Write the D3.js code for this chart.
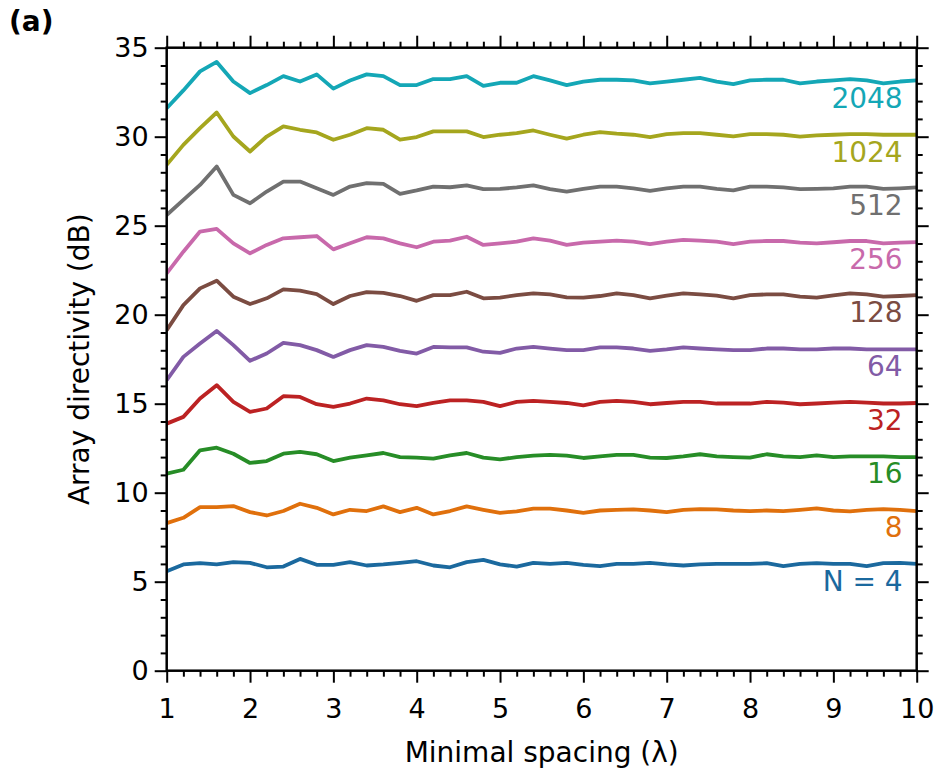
<!DOCTYPE html>
<html>
<head>
<meta charset="utf-8">
<script src="https://cdn.jsdelivr.net/npm/d3@7"></script>
<style>
  html, body { margin: 0; padding: 0; background: #fff; }
  svg { display: block; font-family: "DejaVu Sans", sans-serif; }
</style>
</head>
<body>
<svg id="chart" width="939" height="769"></svg>
<script>
// ---------------- data ----------------
const spacing = d3.range(46).map(i => +(1 + i * 0.2).toFixed(1)); // 1.0 ... 10.0 step 0.2
const seriesNames = ["N = 4", "8", "16", "32", "64", "128", "256", "512", "1024", "2048"];
const seriesColors = ["#1b699e", "#e0700c", "#278d27", "#bc2223", "#825ba6",
                      "#7b4c42", "#c869ab", "#707070", "#a5a61e", "#14a7b6"];

const n4 = [5.59, 5.97, 6.04, 5.97, 6.10, 6.06, 5.81, 5.85, 6.28, 5.95, 5.95, 6.10, 5.91, 5.97, 6.06, 6.15, 5.91, 5.81,
            6.10, 6.23, 5.97, 5.85, 6.06, 6.00, 6.06, 5.95, 5.87, 6.00, 6.00, 6.06, 5.97, 5.91, 5.97, 6.00, 6.00,
            6.00, 6.04, 5.87, 6.00, 6.04, 6.00, 6.00, 5.87, 6.04, 6.06, 6.00];
const n8 = [8.29, 8.59, 9.19, 9.19, 9.25, 8.91, 8.72, 8.97, 9.38, 9.15, 8.78, 9.04, 8.97, 9.23, 8.91, 9.15, 8.78, 8.97,
            9.23, 9.04, 8.87, 8.95, 9.10, 9.10, 9.00, 8.87, 9.00, 9.04, 9.06, 9.00, 8.91, 9.04, 9.08, 9.06, 9.00,
            8.97, 9.00, 8.97, 9.04, 9.12, 9.00, 8.95, 9.04, 9.08, 9.04, 8.97];
const n16 = [11.07, 11.29, 12.38, 12.53, 12.19, 11.67, 11.78, 12.19, 12.29, 12.16, 11.78, 11.97, 12.10, 12.23, 12.00, 11.97, 11.91, 12.10,
             12.23, 11.97, 11.87, 12.00, 12.08, 12.12, 12.08, 11.95, 12.04, 12.12, 12.12, 11.97, 11.95, 12.04, 12.16, 12.04, 12.00,
             11.97, 12.16, 12.04, 12.00, 12.10, 12.00, 12.04, 12.04, 12.04, 12.00, 12.00];
const n32 = [13.88, 14.26, 15.29, 16.04, 15.10, 14.54, 14.73, 15.42, 15.38, 14.97, 14.82, 15.01, 15.29, 15.19, 14.97, 14.86, 15.04, 15.19,
             15.19, 15.10, 14.86, 15.10, 15.16, 15.10, 15.04, 14.91, 15.10, 15.16, 15.10, 14.97, 15.04, 15.10, 15.10, 15.01, 15.01,
             15.01, 15.10, 15.06, 14.97, 15.01, 15.06, 15.10, 15.06, 15.01, 15.01, 15.04];
const n64 = [16.32, 17.63, 18.38, 19.09, 18.29, 17.41, 17.82, 18.42, 18.29, 18.01, 17.63, 18.01, 18.29, 18.19, 17.97, 17.82, 18.19, 18.16,
             18.16, 17.92, 17.86, 18.10, 18.19, 18.10, 18.01, 18.01, 18.16, 18.16, 18.10, 17.97, 18.05, 18.16, 18.10, 18.05, 18.01,
             18.01, 18.10, 18.10, 18.05, 18.05, 18.10, 18.10, 18.05, 18.05, 18.05, 18.05];
const n128 = [19.13, 20.54, 21.48, 21.91, 21.01, 20.60, 20.92, 21.42, 21.35, 21.16, 20.60, 21.05, 21.27, 21.23, 21.05, 20.78, 21.10, 21.10,
              21.29, 20.92, 20.96, 21.10, 21.20, 21.14, 20.97, 20.96, 21.05, 21.20, 21.10, 20.92, 21.07, 21.20, 21.14, 21.07, 20.92,
              21.10, 21.14, 21.14, 21.01, 20.96, 21.08, 21.20, 21.14, 21.01, 21.05, 21.10];
const n256 = [22.32, 23.54, 24.67, 24.82, 24.01, 23.45, 23.92, 24.29, 24.35, 24.42, 23.67, 24.01, 24.35, 24.29, 24.01, 23.79, 24.10, 24.16,
              24.38, 23.92, 24.01, 24.10, 24.29, 24.16, 23.92, 24.05, 24.10, 24.16, 24.10, 23.96, 24.10, 24.20, 24.16, 24.10, 23.97,
              24.10, 24.14, 24.14, 24.05, 24.01, 24.07, 24.14, 24.14, 24.01, 24.05, 24.08];
const n512 = [25.60, 26.45, 27.29, 28.33, 26.73, 26.26, 26.92, 27.48, 27.48, 27.10, 26.73, 27.20, 27.39, 27.35, 26.79, 26.98, 27.20, 27.16,
              27.26, 27.05, 27.07, 27.15, 27.26, 27.05, 26.92, 27.07, 27.20, 27.20, 27.10, 26.96, 27.10, 27.20, 27.20, 27.07, 26.98,
              27.20, 27.20, 27.15, 27.05, 27.07, 27.10, 27.20, 27.20, 27.07, 27.10, 27.15];
const n1024 = [28.42, 29.54, 30.48, 31.36, 30.01, 29.17, 30.01, 30.58, 30.39, 30.24, 29.83, 30.11, 30.48, 30.39, 29.83, 29.98, 30.30, 30.30,
               30.30, 29.98, 30.11, 30.20, 30.35, 30.11, 29.89, 30.11, 30.26, 30.17, 30.11, 29.98, 30.15, 30.20, 30.20, 30.11, 30.02,
               30.15, 30.15, 30.11, 30.00, 30.07, 30.11, 30.15, 30.15, 30.11, 30.11, 30.11];
const n2048 = [31.60, 32.60, 33.67, 34.20, 33.10, 32.45, 32.90, 33.40, 33.10, 33.50, 32.70, 33.16, 33.50, 33.40, 32.90, 32.90, 33.24, 33.24,
               33.40, 32.85, 33.03, 33.03, 33.40, 33.16, 32.90, 33.10, 33.20, 33.20, 33.16, 33.00, 33.10, 33.20, 33.30, 33.10, 32.95,
               33.16, 33.20, 33.20, 33.00, 33.10, 33.16, 33.24, 33.16, 33.00, 33.10, 33.16];
const seriesValues = [n4, n8, n16, n32, n64, n128, n256, n512, n1024, n2048];

const xMajorTicks = [1, 2, 3, 4, 5, 6, 7, 8, 9, 10];
const yMajorTicks = [0, 5, 10, 15, 20, 25, 30, 35];
const xLabel = "Minimal spacing (λ)";
const yLabel = "Array directivity (dB)";
const panelLabel = "(a)";

// ---------------- layout ----------------
const svg = d3.select("#chart");
const L = 166.7, R = 916.7, T = 47.7, B = 670.7;
const x = d3.scaleLinear().domain([1, 10]).range([L, R]);
const y = d3.scaleLinear().domain([0, 35]).range([B, T]);

const xMinor = d3.range(1, 10.0001, 0.2).map(v => +v.toFixed(1)).filter(v => !xMajorTicks.includes(v));
const yMinor = d3.range(0, 36).filter(v => !yMajorTicks.includes(v));

function styleAxis(g) {
  g.select(".domain").remove();
  g.selectAll(".tick line").attr("stroke", "#000").attr("stroke-width", 2);
  g.selectAll(".tick text").attr("fill", "#000").attr("font-size", 27).attr("font-family", "DejaVu Sans");
}

// bottom
svg.append("g").attr("transform", `translate(0,${B})`)
  .call(d3.axisBottom(x).tickValues(xMajorTicks).tickSize(12).tickPadding(16).tickFormat(d3.format("d")))
  .call(styleAxis);
svg.append("g").attr("transform", `translate(0,${B})`)
  .call(d3.axisBottom(x).tickValues(xMinor).tickSize(6).tickFormat(""))
  .call(styleAxis);
// top
svg.append("g").attr("transform", `translate(0,${T})`)
  .call(d3.axisTop(x).tickValues(xMajorTicks).tickSize(12).tickFormat(""))
  .call(styleAxis);
svg.append("g").attr("transform", `translate(0,${T})`)
  .call(d3.axisTop(x).tickValues(xMinor).tickSize(6).tickFormat(""))
  .call(styleAxis);
// left
svg.append("g").attr("transform", `translate(${L},0)`)
  .call(d3.axisLeft(y).tickValues(yMajorTicks).tickSize(12).tickPadding(6).tickFormat(d3.format("d")))
  .call(styleAxis);
svg.append("g").attr("transform", `translate(${L},0)`)
  .call(d3.axisLeft(y).tickValues(yMinor).tickSize(6).tickFormat(""))
  .call(styleAxis);
// right
svg.append("g").attr("transform", `translate(${R},0)`)
  .call(d3.axisRight(y).tickValues(yMajorTicks).tickSize(12).tickFormat(""))
  .call(styleAxis);
svg.append("g").attr("transform", `translate(${R},0)`)
  .call(d3.axisRight(y).tickValues(yMinor).tickSize(6).tickFormat(""))
  .call(styleAxis);

// lines
const line = d3.line().x((d, i) => x(spacing[i])).y(d => y(d));
svg.append("clipPath").attr("id", "clip").append("rect")
  .attr("x", L).attr("y", T).attr("width", R - L).attr("height", B - T);
seriesValues.forEach((vals, k) => {
  svg.append("path").datum(vals)
    .attr("clip-path", "url(#clip)")
    .attr("fill", "none")
    .attr("stroke", seriesColors[k])
    .attr("stroke-width", 3.8)
    .attr("stroke-linejoin", "round")
    .attr("d", line);
});

// series labels
seriesValues.forEach((vals, k) => {
  svg.append("text")
    .attr("x", x(10) - 14)
    .attr("y", y(d3.mean(vals.slice(-10))) + 27)
    .attr("text-anchor", "end")
    .attr("font-size", 28)
    .attr("fill", seriesColors[k])
    .text(seriesNames[k]);
});

// frame
svg.append("rect").attr("x", L).attr("y", T).attr("width", R - L).attr("height", B - T)
  .attr("fill", "none").attr("stroke", "#000").attr("stroke-width", 2.5);

// axis labels
svg.append("text").attr("x", (L + R) / 2).attr("y", 762).attr("text-anchor", "middle")
  .attr("font-size", 28).attr("fill", "#000").text(xLabel);
svg.append("text").attr("transform", `translate(89,${(T + B) / 2}) rotate(-90)`)
  .attr("text-anchor", "middle").attr("font-size", 28).attr("fill", "#000").text(yLabel);
svg.append("text").attr("x", 9).attr("y", 31).attr("font-size", 28).attr("font-weight", "bold")
  .attr("fill", "#000").text(panelLabel);
</script>
</body>
</html>
